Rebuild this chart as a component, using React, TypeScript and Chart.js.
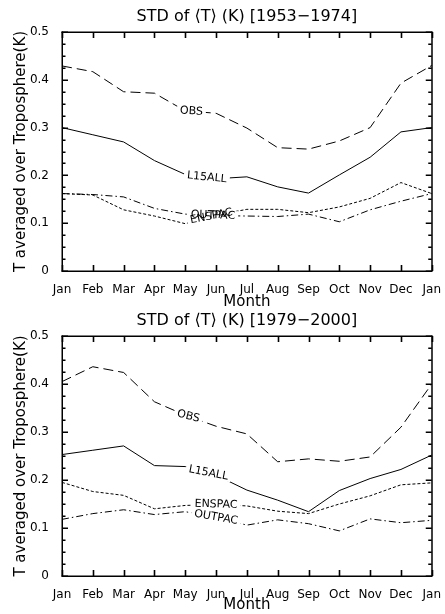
import { useEffect, useRef } from "react";
import { Chart, registerables } from "chart.js";
Chart.register(...registerables);

const months = ["Jan", "Feb", "Mar", "Apr", "May", "Jun", "Jul", "Aug", "Sep", "Oct", "Nov", "Dec", "Jan"];
const yTickLabels = ["0", "0.1", "0.2", "0.3", "0.4", "0.5"];
const seriesNames = ["OBS", "L15ALL", "ENSPAC", "OUTPAC"];

const title1 = "STD of \u27E8T\u27E9 (K) [1953\u22121974]";
const obs1 = [0.429, 0.417, 0.375, 0.372, 0.335, 0.330, 0.299, 0.258, 0.255, 0.272, 0.300, 0.393, 0.430];
const l15all1 = [0.300, 0.285, 0.270, 0.231, 0.202, 0.193, 0.197, 0.176, 0.163, 0.201, 0.238, 0.291, 0.300];
const enspac1 = [0.162, 0.159, 0.128, 0.115, 0.099, 0.117, 0.129, 0.129, 0.122, 0.134, 0.152, 0.185, 0.162];
const outpac1 = [0.162, 0.160, 0.155, 0.131, 0.119, 0.116, 0.115, 0.114, 0.119, 0.103, 0.128, 0.146, 0.162];

const title2 = "STD of \u27E8T\u27E9 (K) [1979\u22122000]";
const obs2 = [0.405, 0.436, 0.424, 0.363, 0.335, 0.312, 0.296, 0.238, 0.244, 0.239, 0.248, 0.310, 0.400];
const l15all2 = [0.253, 0.262, 0.271, 0.230, 0.228, 0.210, 0.179, 0.158, 0.134, 0.178, 0.203, 0.222, 0.252];
const enspac2 = [0.195, 0.176, 0.168, 0.140, 0.147, 0.149, 0.146, 0.135, 0.130, 0.150, 0.167, 0.190, 0.194];
const outpac2 = [0.118, 0.130, 0.138, 0.128, 0.134, 0.122, 0.106, 0.117, 0.109, 0.094, 0.119, 0.111, 0.116];

// where (as fractional month index) each series' inline label sits
const labelAt1 = [4.2, 4.7, 4.85, 4.9];
const labelAt2 = [4.1, 4.75, 5.0, 5.0];

const FONT = "'DejaVu Sans', sans-serif";
const dashes = [[10, 5], [], [3, 2], [7, 3, 1.5, 3]];

const framePlugin = {
  id: "frameTicks",
  afterDatasetsDraw(chart: any, _args: any, opts: any) {
    const ctx = chart.ctx;
    const xs = chart.scales.x;
    const ys = chart.scales.y;
    const labels: { ds: number; at: number }[] = opts.labels || [];
    const items: any[] = [];
    ctx.save();
    ctx.font = `11px ${FONT}`;
    labels.forEach((l) => {
      const data = chart.data.datasets[l.ds].data as number[];
      const i0 = Math.floor(l.at);
      const i1 = Math.min(i0 + 1, data.length - 1);
      const t = l.at - i0;
      const x0 = xs.getPixelForValue(i0), x1 = xs.getPixelForValue(i1);
      const y0 = ys.getPixelForValue(data[i0]), y1 = ys.getPixelForValue(data[i1]);
      const x = x0 + (x1 - x0) * t;
      const y = y0 + (y1 - y0) * t;
      const ang = Math.atan2(y1 - y0, x1 - x0) * 0.7;
      const text = chart.data.datasets[l.ds].label;
      const w = ctx.measureText(text).width;
      items.push({ x, y, ang, text, w });
    });
    items.forEach((it) => {
      ctx.save();
      ctx.translate(it.x, it.y);
      ctx.rotate(it.ang);
      ctx.fillStyle = "#fff";
      ctx.fillRect(-it.w / 2 - 3, -5, it.w + 6, 10);
      ctx.restore();
    });
    items.forEach((it) => {
      ctx.save();
      ctx.translate(it.x, it.y);
      ctx.rotate(it.ang);
      ctx.fillStyle = "#000";
      ctx.textAlign = "center";
      ctx.textBaseline = "middle";
      ctx.fillText(it.text, 0, 0);
      ctx.restore();
    });
    ctx.restore();
  },
  afterDraw(chart: any, _args: any, opts: any) {
    const ctx = chart.ctx;
    const area = chart.chartArea;
    const L = area.left, R = area.right, T = area.top, B = area.bottom;
    const xs = chart.scales.x;
    const ys = chart.scales.y;
    ctx.save();
    ctx.setLineDash([]);
    ctx.fillStyle = "#000";
    // frame
    ctx.fillRect(L - 0.5, T - 0.5, R - L + 1, 1.5);
    ctx.fillRect(L - 0.5, B - 0.5, R - L + 1, 1.5);
    ctx.fillRect(L - 0.5, T - 0.5, 1.5, B - T + 1);
    ctx.fillRect(R - 0.5, T - 0.5, 1.5, B - T + 1);
    // value ticks, left and right, major every 0.1, minor every 0.025
    for (let k = 0; k <= 20; k++) {
      const y = Math.round(ys.getPixelForValue(k * 0.025));
      const len = k % 4 === 0 ? 6 : 3.5;
      ctx.fillRect(L, y - 0.5, len, 1.5);
      ctx.fillRect(R - len, y - 0.5, len, 1.5);
    }
    // month ticks, top and bottom, pointing inward
    ctx.beginPath();
    for (let i = 0; i < months.length; i++) {
      const x = Math.round(xs.getPixelForValue(i)) + 0.5;
      ctx.moveTo(x, B);
      ctx.lineTo(x, B - 6);
      ctx.moveTo(x, T);
      ctx.lineTo(x, T + 6);
    }
    ctx.strokeStyle = "#000";
    ctx.lineWidth = 1.6;
    ctx.stroke();
    // panel title centred over the plot area
    ctx.font = `16px ${FONT}`;
    ctx.textAlign = "center";
    ctx.textBaseline = "middle";
    ctx.fillText(opts.title, (L + R) / 2, 17);
    ctx.restore();
  },
};

type PanelProps = {
  top: number;
  title: string;
  series: number[][];
  labelAt: number[];
  xAxisHeight: number;
  monthPad: number;
};

function Panel({ top, title, series, labelAt, xAxisHeight, monthPad }: PanelProps) {
  const ref = useRef<HTMLCanvasElement>(null);
  useEffect(() => {
    if (!ref.current) return;
    const chart = new Chart(ref.current, {
      type: "line",
      data: {
        labels: months,
        datasets: series.map((d, i) => ({
          label: seriesNames[i],
          data: d,
          borderColor: "#000",
          borderWidth: 1,
          borderDash: dashes[i],
          pointRadius: 0,
          tension: 0,
          fill: false,
        })),
      },
      options: {
        animation: false,
        responsive: false,
        devicePixelRatio: 1,
        layout: { padding: { left: 0, right: 11, top: 32, bottom: 0 } },
        plugins: {
          legend: { display: false },
          tooltip: { enabled: false },
          title: { display: false },
          frameTicks: { labels: labelAt.map((at, ds) => ({ ds, at })), title },
        } as any,
        scales: {
          x: {
            type: "category",
            offset: false,
            grid: { display: false },
            border: { display: false },
            ticks: {
              color: "#000",
              font: { family: FONT, size: 12 },
              padding: 4,
              maxRotation: 0,
              autoSkip: false,
            },
            title: {
              display: true,
              text: "Month",
              color: "#000",
              font: { family: FONT, size: 15 },
              padding: { top: 0, bottom: monthPad },
            },
            afterFit: (s: any) => {
              s.height = xAxisHeight;
            },
          },
          y: {
            min: 0,
            max: 0.5,
            grid: { display: false },
            border: { display: false },
            ticks: {
              stepSize: 0.1,
              color: "#000",
              font: { family: FONT, size: 12 },
              padding: 5,
              callback: (_v: any, i: number) => yTickLabels[i],
            },
            title: {
              display: true,
              text: "T averaged over Troposphere(K)",
              color: "#000",
              font: { family: FONT, size: 15 },
              padding: { top: 12, bottom: 0 },
            },
            afterFit: (s: any) => {
              s.width = 62;
            },
          },
        },
      },
      plugins: [framePlugin],
    });
    return () => chart.destroy();
  }, []);
  return (
    <canvas
      ref={ref}
      width={445}
      height={310}
      style={{ position: "absolute", left: 0, top, width: 445, height: 310 }}
    />
  );
}

export default function App() {
  return (
    <div style={{ position: "absolute", left: 0, top: 0, width: 445, height: 614, background: "#fff" }}>
      <Panel top={0} title={title1} series={[obs1, l15all1, enspac1, outpac1]} labelAt={labelAt1} xAxisHeight={39} monthPad={-1} />
      <Panel top={304} title={title2} series={[obs2, l15all2, enspac2, outpac2]} labelAt={labelAt2} xAxisHeight={38} monthPad={0} />
    </div>
  );
}
